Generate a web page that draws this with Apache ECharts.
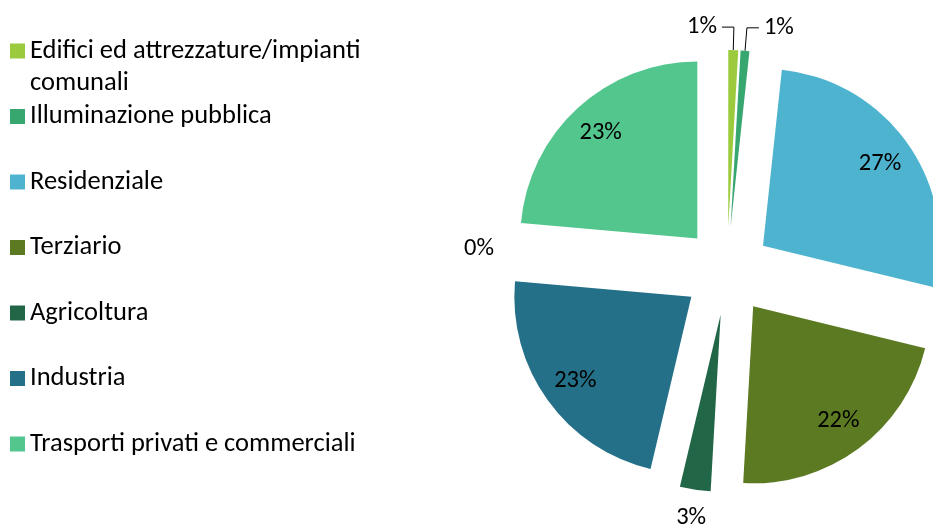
<!DOCTYPE html>
<html>
<head>
<meta charset="utf-8">
<script src="https://cdn.jsdelivr.net/npm/echarts@6/dist/echarts.min.js"></script>
<style>
html, body { margin: 0; padding: 0; background: #fff; }
#main { width: 933px; height: 526px; }
</style>
</head>
<body>
<div id="main"></div>
<script>
// dati (quote % dei consumi per settore)
var categories = ['Edifici ed attrezzature/impianti comunali', 'Illuminazione pubblica', 'Residenziale', 'Terziario', 'Agricoltura', 'Industria', 'Altro', 'Trasporti privati e commerciali'];
var values = [0.9, 0.8, 27.1, 22.1, 2.8, 22.7, 0, 23.6];
var colors = ['#9BCB3C', '#38A66F', '#4EB3CF', '#5B7A22', '#216646', '#247089', '#BFBFBF', '#53C68E'];
var legendNames = categories.filter(function (n) { return n !== 'Altro'; });

var FONT = 'Carlito, Lato, sans-serif';
var LINE_LEN = 23, LINE_LEN2 = 12;
// dove va l'etichetta di ogni fetta: 'line' = fuori con linea guida, 'mid' = dentro, 'far' = oltre il bordo
var labelPlace = ['line', 'line', 'mid', 'mid', 'far', 'mid', 'far', 'mid'];

function makeData(place, withColor) {
    return categories.map(function (n, i) {
        var show = labelPlace[i] === place;
        var item = {
            name: n,
            value: values[i],
            selected: true,
            itemStyle: { color: withColor ? colors[i] : 'rgba(0,0,0,0)' },
            label: { show: show },
            labelLine: { show: show && place === 'line' }
        };
        // la prima etichetta sta a sinistra della sua linea guida
        if (place === 'line' && i === 0) item.label.padding = [0, 2 * LINE_LEN2 + 10, 0, 0];
        return item;
    });
}

var base = {
    type: 'pie',
    center: [727, 271],
    startAngle: 90,
    clockwise: true,
    selectedMode: 'multiple',
    selectedOffset: 44,
    avoidLabelOverlap: false,
    percentPrecision: 0,
    animation: false,
    emphasis: { disabled: true }
};

var labelFont = { formatter: '{d}%', fontSize: 24.5, color: '#000', fontFamily: FONT };

var myChart = echarts.init(document.getElementById('main'));
var option = {
    backgroundColor: '#fff',
    textStyle: { fontFamily: FONT },
    legend: {
        orient: 'vertical',
        left: 5,
        top: 31,
        itemWidth: 15,
        itemHeight: 15,
        itemGap: 35.5,
        icon: 'rect',
        selectedMode: false,
        data: legendNames,
        formatter: function (n) {
            return n === categories[0] ? 'Edifici ed attrezzature/impianti' : n;
        },
        textStyle: { fontFamily: FONT, fontSize: 26.5, lineHeight: 30, color: '#000' }
    },
    graphic: [{
        type: 'text',
        left: 30,
        top: 70,
        style: { text: 'comunali', font: '26.5px ' + FONT, fill: '#000' }
    }],
    series: [
        echarts.util.merge({
            radius: 177,
            data: makeData('line', true),
            label: echarts.util.extend({ position: 'outside' }, labelFont),
            labelLine: { length: LINE_LEN, length2: LINE_LEN2, lineStyle: { color: '#000', width: 1 } },
            labelLayout: function (p) {
                if (p.dataIndex !== 0 || !p.labelLinePoints) return {};
                var pts = p.labelLinePoints;
                var bend = pts[1];
                var end = [bend[0] - (pts[2][0] - bend[0]), bend[1]];
                return { align: 'right', labelLinePoints: [pts[0], bend, end] };
            }
        }, base),
        echarts.util.merge({
            radius: 280,
            silent: true,
            data: makeData('mid', false),
            label: echarts.util.extend({ position: 'inside' }, labelFont)
        }, base),
        echarts.util.merge({
            radius: 404,
            silent: true,
            data: makeData('far', false),
            label: echarts.util.extend({ position: 'inside' }, labelFont)
        }, base)
    ]
};
myChart.setOption(option);
</script>
</body>
</html>
